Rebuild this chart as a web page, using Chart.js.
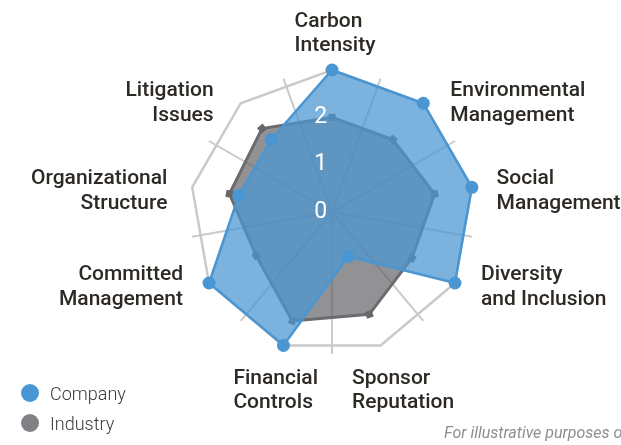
<!DOCTYPE html>
<html><head><meta charset="utf-8">
<script src="https://cdn.jsdelivr.net/npm/chart.js@4.4.1/dist/chart.umd.min.js"></script>
<style>
html,body{margin:0;padding:0;background:#fff;overflow:hidden;}
#wrap{position:relative;width:621px;height:445px;overflow:hidden;}
canvas{position:absolute;left:0;top:0;}
#legend{position:absolute;left:21px;top:378px;font-family:Roboto,sans-serif;font-weight:300;font-size:18px;color:#3a3a3a;}
.item{height:30px;display:flex;align-items:center;}
.dot{width:18px;height:18px;border-radius:50%;margin-right:11px;flex:none;}
#note{position:absolute;left:444px;top:423px;font-family:Roboto,sans-serif;font-style:italic;font-size:16px;color:#8e8e8e;white-space:nowrap;}
</style></head><body>
<div id="wrap"><canvas id="c" width="621" height="445"></canvas><div id="legend"></div><div id="note">For illustrative purposes only</div></div>
<script>
const categories = [
  ['Carbon','Intensity'],
  ['Environmental','Management'],
  ['Social','Management'],
  ['Diversity','and Inclusion'],
  ['Sponsor','Reputation'],
  ['Financial','Controls'],
  ['Committed','Management'],
  ['Organizational','Structure'],
  ['Litigation','Issues']
];
const seriesNames = ['Company','Industry'];
const companyScores = [3, 3, 3, 3, 1, 3, 3, 2, 2];
const industryScores = [2.0, 2.0, 2.2, 1.95, 2.3, 2.45, 1.85, 2.2, 2.3];
const tickLabels = [0, 1, 2];
const scaleMax = 3;

const COMPANY = '#4a96d2';
const INDUSTRY_LINE = '#6b6b6f';
const INDUSTRY_DOT = '#808085';
const TICK_SIZE = 23;

const outerLabels = {
  id: 'outerLabels',
  afterDraw(chart) {
    const s = chart.scales.r;
    const ctx = chart.ctx;
    const R = s.drawingArea;
    const lh = 24.5;
    ctx.save();
    ctx.font = '500 21px Roboto';
    ctx.fillStyle = '#2d2925';
    ctx.textBaseline = 'middle';
    chart.data.labels.forEach((lab, i) => {
      const lines = [].concat(lab);
      const a = s.getIndexAngle(i);
      const sin = Math.sin(a), cos = Math.cos(a);
      const v = s.getPointPosition(i, R);
      const w = Math.max(...lines.map(t => ctx.measureText(t).width));
      const h = lines.length * lh;
      const dy = Math.abs(cos) < 0.6 ? 4 : 0;
      const gap = 24 + 4 * Math.abs(cos);
      let left, top, align = 'left';
      if (cos > 0.9) { left = v.x + 3 - w / 2; top = v.y - 12 - h; }
      else if (cos < -0.9) { top = v.y + 21; left = sin > 0 ? s.xCenter + 20 : s.xCenter - 14 - w; }
      else if (sin > 0) { left = v.x + gap; top = v.y + dy - h / 2; }
      else { align = 'right'; left = v.x - gap - w; top = v.y + dy - h / 2; }
      ctx.textAlign = align;
      lines.forEach((t, k) => ctx.fillText(t, align === 'left' ? left : left + w, top + lh * (k + 0.5)));
    });
    ctx.restore();
  }
};

const chart = new Chart(document.getElementById('c'), {
  type: 'radar',
  data: {
    labels: categories,
    datasets: [
      { label: seriesNames[0], data: companyScores, rAxisID: 'r',
        backgroundColor: 'rgba(74,150,210,0.73)', borderColor: COMPANY, borderWidth: 2.5,
        pointRadius: 6.5, pointHoverRadius: 6.5, pointBackgroundColor: COMPANY, pointBorderWidth: 0,
        legendColor: COMPANY },
      { label: seriesNames[1], data: industryScores, rAxisID: 'r',
        backgroundColor: 'rgba(100,100,104,0.7)', borderColor: INDUSTRY_LINE, borderWidth: 3,
        pointStyle: 'rect', pointRadius: 5, pointHoverRadius: 5,
        pointRotation: c => c.dataIndex * 40,
        pointBackgroundColor: '#67676b', pointBorderWidth: 0,
        legendColor: INDUSTRY_DOT }
    ]
  },
  options: {
    responsive: false, animation: false, events: [],
    layout: { padding: { left: 179, right: 135, top: 59, bottom: 79 } },
    elements: { line: { tension: 0 } },
    plugins: { legend: { display: false }, tooltip: { enabled: false } },
    scales: {
      r: {
        min: -1e-6, max: scaleMax, startAngle: 0,
        ticks: { stepSize: 1, z: 1, color: '#ffffff', showLabelBackdrop: false,
          backdropPadding: 0, font: { family: 'Roboto', size: TICK_SIZE },
          callback: v => { const n = Math.round(v); return tickLabels.includes(n) ? String(n) + '    ' : ''; } },
        grid: { circular: false, lineWidth: 2.5,
          color: c => (c.tick && Math.round(c.tick.value) === scaleMax) ? '#cacaca' : 'rgba(0,0,0,0)' },
        angleLines: { display: false },
        pointLabels: { display: false }
      },
      r2: {
        type: 'radialLinear', axis: 'r', min: 0, max: scaleMax, startAngle: 20,
        ticks: { stepSize: 1, color: 'rgba(0,0,0,0)', showLabelBackdrop: false,
          backdropPadding: 0, font: { family: 'Roboto', size: TICK_SIZE }, callback: () => '' },
        grid: { display: false },
        angleLines: { display: true, color: '#cacaca', lineWidth: 2 },
        pointLabels: { display: false }
      }
    }
  },
  plugins: [outerLabels]
});

const legend = document.getElementById('legend');
chart.data.datasets.forEach(ds => {
  const item = document.createElement('div');
  item.className = 'item';
  const dot = document.createElement('span');
  dot.className = 'dot';
  dot.style.background = ds.legendColor;
  const txt = document.createElement('span');
  txt.textContent = ds.label;
  item.appendChild(dot); item.appendChild(txt);
  legend.appendChild(item);
});
</script>
</body></html>
